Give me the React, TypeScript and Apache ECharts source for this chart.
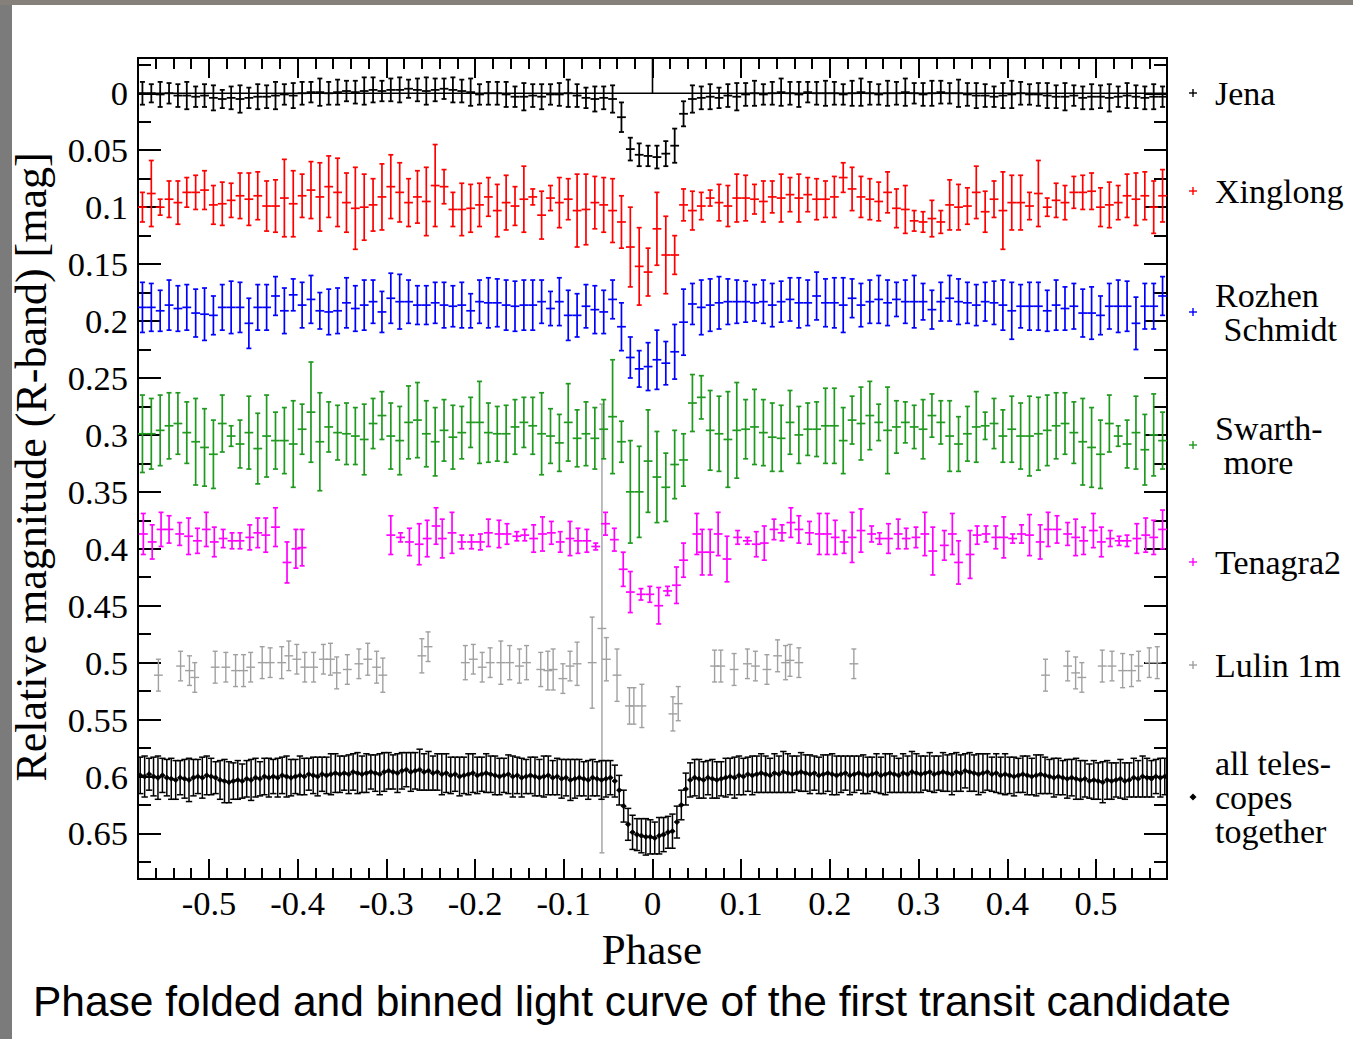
import React, { useEffect, useRef } from "react";
import * as echarts from "echarts";

// ---------- axes ----------
const X_MIN = -0.58;
const X_MAX = 0.58;
const Y_MIN = -0.031;
const Y_MAX = 0.69;
const X_MAJOR = [-0.5, -0.4, -0.3, -0.2, -0.1, 0, 0.1, 0.2, 0.3, 0.4, 0.5];
const X_LABELS = ["-0.5", "-0.4", "-0.3", "-0.2", "-0.1", "0", "0.1", "0.2", "0.3", "0.4", "0.5"];
const X_MINOR = [-0.56, -0.54, -0.52, -0.48, -0.46, -0.44, -0.42, -0.38, -0.36, -0.34, -0.32, -0.28, -0.26, -0.24, -0.22,
  -0.18, -0.16, -0.14, -0.12, -0.08, -0.06, -0.04, -0.02, 0.02, 0.04, 0.06, 0.08, 0.12, 0.14, 0.16, 0.18, 0.22, 0.24, 0.26, 0.28,
  0.32, 0.34, 0.36, 0.38, 0.42, 0.44, 0.46, 0.48, 0.52, 0.54, 0.56];
const Y_MAJOR = [0, 0.05, 0.1, 0.15, 0.2, 0.25, 0.3, 0.35, 0.4, 0.45, 0.5, 0.55, 0.6, 0.65];
const Y_LABELS = ["0", "0.05", "0.1", "0.15", "0.2", "0.25", "0.3", "0.35", "0.4", "0.45", "0.5", "0.55", "0.6", "0.65"];
const Y_MINOR = [-0.025, 0.025, 0.075, 0.125, 0.175, 0.225, 0.275, 0.325, 0.375, 0.425, 0.475, 0.525, 0.575, 0.625, 0.675];

// ---------- binned data (magnitudes and errors in mmag) ----------
const BIN_START = -0.575; // centre of first 0.01-wide phase bin
const BIN_STEP = 0.01;
const ALL_BIN_START = -0.5775; // centre of first 0.005-wide phase bin
const ALL_BIN_STEP = 0.005;

const JENA_MAG = [
  0, 0, 1, 0, 2, 2, 3, 2, 4, 5, 4, 5, 4, 3, 3, 2, 1, 2, 0, -1, -1, 0, -1, -2, -1, -2, -3, -2, -3, -3, -4, -3, -2, -3, -4, -3, -2, -1, 1, 0,
  0, 1, 3, 3, 2, 3, 1, 1, 0, 2, 4, 5, 4, 5, 21, 49, 54, 55, 56, 53, 46, 18, 5, 4, 3, 4, 2, 3, 1, 0, 1, 0, -1, 0, 1, -1, 0, 0,
  0, 1, 0, -1, 0, 1, 0, 0, -1, 0, 1, 0, -1, 0, 0, 1, 2, 2, 3, 2, 1, 0, 1, 1, 2, 3, 3, 2, 4, 3, 3, 4, 3, 2, 3, 4, 3, 3,
];
const JENA_ERR = [
  10, 8, 11, 9, 10, 12, 9, 10, 11, 8, 10, 12, 9, 11, 10, 12, 9, 11, 10, 9, 12, 10, 11, 9, 10, 12, 11, 9, 10, 11, 8, 10, 12, 10, 9, 11, 10, 12, 9, 10,
  10, 11, 9, 12, 10, 11, 9, 10, 12, 10, 9, 11, 10, 12, 13, 10, 10, 9, 10, 11, 15, 11, 12, 10, 11, 9, 10, 12, 10, 11, 9, 10, 12, 10, 11, 9, 10, 11,
  10, 9, 11, 12, 10, 9, 11, 10, 12, 9, 10, 11, 10, 9, 12, 10, 11, 10, 9, 11, 12, 10, 9, 10, 11, 10, 12, 9, 10, 11, 10, 12, 9, 11, 10, 10, 11, 9,
];
const XINGLONG_MAG = [
  100, 88, 100, 93, 96, 87, 87, 85, 98, 97, 94, 90, 93, 90, 99, 99, 92, 97, 90, 85, 91, 82, 87, 96, 101, 100, 98, 91, 82, 87, 96, 91, 95, 81, 82, 102, 102, 101, 98, 91,
  103, 96, 99, 93, 91, 107, 92, 96, 93, 103, 102, 96, 98, 103, 113, 135, 152, 157, 119, 142, 142, 98, 103, 99, 92, 96, 99, 92, 92, 93, 95, 91, 92, 89, 92, 89, 93, 93,
  91, 74, 84, 91, 93, 95, 87, 101, 102, 112, 113, 110, 113, 98, 100, 99, 87, 104, 93, 103, 96, 96, 99, 88, 100, 94, 96, 87, 87, 86, 100, 98, 96, 90, 93, 90, 100, 90,
];
const XINGLONG_ERR = [
  13, 29, 7, 16, 19, 13, 15, 17, 17, 19, 15, 20, 23, 21, 22, 23, 34, 29, 19, 25, 30, 27, 30, 26, 36, 29, 23, 29, 28, 26, 21, 23, 30, 36, 15, 15, 23, 21, 19, 17,
  23, 24, 17, 29, 7, 21, 11, 22, 18, 32, 31, 23, 24, 28, 23, 35, 34, 21, 32, 34, 17, 14, 17, 12, 7, 16, 18, 21, 20, 13, 18, 14, 21, 15, 21, 15, 18, 16,
  18, 13, 19, 18, 18, 17, 18, 17, 21, 9, 9, 16, 10, 22, 20, 16, 23, 18, 16, 34, 24, 24, 12, 29, 8, 15, 15, 14, 15, 16, 17, 20, 15, 19, 23, 21, 23, 23,
];
const ROZHEN_MAG = [
  188, 188, 191, 186, 189, 188, 193, 194, 195, 188, 188, 188, 202, 188, 188, 178, 191, 177, 186, 181, 191, 192, 191, 184, 189, 186, 183, 192, 180, 183, 183, 186, 186, 184, 186, 187, 186, 191, 183, 184,
  184, 186, 187, 186, 186, 183, 189, 183, 195, 195, 187, 190, 192, 181, 205, 232, 242, 240, 234, 237, 227, 201, 185, 188, 186, 184, 183, 183, 183, 184, 183, 186, 183, 181, 184, 184, 178, 184,
  184, 186, 180, 186, 183, 181, 184, 181, 183, 183, 183, 190, 183, 180, 183, 184, 186, 183, 184, 186, 191, 187, 187, 187, 191, 186, 189, 187, 193, 193, 195, 187, 187, 187, 202, 187, 187, 178,
];
const ROZHEN_ERR = [
  22, 21, 18, 22, 20, 20, 21, 23, 17, 20, 23, 22, 22, 20, 20, 17, 20, 14, 20, 21, 16, 20, 20, 22, 20, 22, 19, 18, 22, 24, 19, 17, 17, 18, 20, 18, 20, 15, 19, 22,
  21, 22, 22, 22, 22, 19, 15, 21, 22, 19, 19, 21, 19, 17, 21, 18, 16, 21, 26, 19, 24, 29, 18, 24, 23, 23, 20, 19, 18, 16, 19, 19, 18, 19, 22, 20, 21, 21,
  22, 24, 17, 19, 19, 21, 20, 15, 19, 23, 16, 17, 17, 20, 20, 18, 18, 17, 19, 22, 25, 19, 21, 21, 18, 22, 19, 20, 21, 23, 17, 20, 23, 22, 23, 20, 20, 17,
];
const SWARTH_MAG = [
  299, 299, 296, 292, 290, 298, 306, 311, 317, 290, 301, 308, 298, 312, 301, 305, 305, 308, 295, 280, 306, 293, 298, 299, 301, 304, 290, 283, 301, 305, 289, 287, 299, 306, 296, 302, 298, 289, 289, 298,
  299, 299, 293, 289, 292, 299, 301, 307, 289, 303, 299, 303, 295, 284, 306, 350, 350, 323, 337, 346, 326, 322, 272, 267, 296, 299, 304, 296, 295, 293, 298, 302, 303, 289, 300, 295, 295, 292,
  292, 305, 287, 290, 283, 289, 296, 293, 289, 293, 295, 283, 289, 301, 308, 299, 293, 292, 290, 301, 295, 301, 301, 299, 296, 292, 290, 298, 306, 311, 317, 290, 301, 308, 298, 313, 300, 305,
];
const SWARTH_ERR = [
  34, 31, 31, 29, 27, 27, 38, 34, 30, 25, 9, 21, 32, 31, 36, 25, 29, 38, 22, 44, 43, 22, 24, 27, 25, 31, 22, 21, 29, 30, 32, 33, 29, 30, 27, 28, 23, 22, 36, 26,
  24, 25, 24, 22, 25, 36, 24, 25, 34, 25, 28, 27, 26, 50, 18, 45, 40, 45, 40, 30, 30, 23, 25, 19, 35, 33, 42, 42, 26, 33, 29, 30, 29, 28, 25, 23, 24, 33,
  33, 29, 21, 32, 30, 16, 38, 23, 18, 19, 26, 19, 19, 31, 24, 24, 31, 12, 22, 23, 29, 29, 35, 32, 31, 29, 27, 27, 38, 35, 30, 25, 9, 21, 32, 31, 36, 25,
];

// Tenagra2 and Lulin have gaps: explicit phases
const TENAGRA_PHASE = [
  -0.574, -0.564, -0.554, -0.545, -0.533, -0.523, -0.513, -0.503, -0.494, -0.484, -0.474, -0.465, -0.454, -0.445, -0.436, -0.425, -0.412, -0.402, -0.395,
  -0.295, -0.284, -0.274, -0.263, -0.254, -0.244, -0.237, -0.226, -0.215, -0.204, -0.194, -0.185,
  -0.173, -0.164, -0.153, -0.144, -0.134, -0.124, -0.114, -0.104, -0.093, -0.084, -0.074, -0.064, -0.053, -0.043, -0.033, -0.025, -0.013, -0.003,
  0.007, 0.017, 0.027, 0.035, 0.050, 0.056, 0.065, 0.074, 0.084, 0.096, 0.107, 0.117, 0.126, 0.137, 0.146, 0.156, 0.165, 0.177, 0.188, 0.197,
  0.206, 0.216, 0.225, 0.235, 0.247, 0.256, 0.266, 0.277, 0.286, 0.297, 0.307, 0.316, 0.329, 0.338, 0.345, 0.358, 0.366, 0.376, 0.387, 0.396,
  0.406, 0.416, 0.425, 0.437, 0.446, 0.456, 0.468, 0.477, 0.486, 0.497, 0.506, 0.516, 0.526, 0.535, 0.546, 0.556, 0.565, 0.575,
];
const TENAGRA_MAG = [
  387, 394, 383, 383, 387, 389, 393, 383, 394, 391, 393, 393, 390, 386, 388, 381, 412, 400, 399,
  388, 390, 394, 396, 391, 380, 391, 386, 394, 394, 394, 386,
  387, 387, 389, 388, 391, 387, 386, 394, 391, 393, 393, 398, 378, 392, 418, 438, 440, 440,
  450, 437, 432, 410, 387, 403, 403, 387, 409, 390, 393, 396, 395, 383, 386, 377, 383, 386, 387, 387,
  390, 394, 390, 384, 387, 391, 391, 387, 391, 390, 387, 402, 397, 387, 412, 405, 388, 387, 390, 390,
  391, 387, 388, 394, 383, 383, 387, 390, 393, 384, 394, 391, 393, 393, 391, 388, 390, 383,
];
const TENAGRA_ERR = [
  18, 15, 15, 12, 10, 16, 11, 15, 13, 8, 7, 7, 11, 13, 15, 17, 18, 17, 16,
  17, 4, 12, 18, 16, 16, 17, 18, 6, 6, 7, 12,
  12, 9, 4, 5, 12, 15, 10, 9, 15, 11, 10, 3, 10, 10, 15, 18, 5, 7,
  16, 4, 16, 15, 18, 20, 20, 19, 20, 6, 3, 11, 15, 9, 7, 13, 12, 10, 18, 18,
  15, 10, 22, 19, 7, 5, 13, 13, 9, 9, 19, 21, 13, 18, 19, 21, 8, 7, 10, 18,
  4, 8, 18, 15, 15, 12, 10, 16, 12, 15, 13, 7, 4, 5, 13, 15, 15, 17,
];
const LULIN_PHASE = [
  -0.557, -0.532, -0.522, -0.516, -0.493, -0.481, -0.470, -0.461, -0.453, -0.440, -0.431, -0.418, -0.410, -0.401, -0.392,
  -0.382, -0.371, -0.363, -0.356, -0.344, -0.331, -0.321, -0.311, -0.304, -0.260, -0.253, -0.211, -0.202, -0.192, -0.183,
  -0.171, -0.161, -0.150, -0.142, -0.126, -0.118, -0.112, -0.101, -0.093, -0.085, -0.068, -0.057, -0.052, -0.040, -0.026,
  -0.021, -0.012, 0.023, 0.029, 0.070, 0.077, 0.092, 0.107, 0.116, 0.129, 0.141, 0.150, 0.155, 0.165,
  0.227, 0.443, 0.468, 0.477, 0.484, 0.507, 0.518, 0.530, 0.540, 0.548, 0.560, 0.569,
];
const LULIN_MAG = [
  511, 503, 507, 513, 504, 504, 507, 507, 504, 500, 500, 500, 494, 497, 504,
  504, 497, 497, 509, 506, 501, 497, 504, 511, 494, 486, 500, 497, 504, 500,
  500, 500, 503, 500, 506, 507, 506, 514, 503, 501, 500, 470, 497, 511, 538,
  538, 538, 545, 536, 503, 503, 506, 501, 503, 506, 494, 500, 498, 500,
  501, 511, 503, 509, 513, 503, 503, 507, 507, 503, 500, 500,
];
const LULIN_ERR = [
  14, 13, 13, 13, 14, 13, 14, 14, 13, 14, 13, 14, 13, 13, 13,
  13, 13, 14, 14, 13, 13, 14, 14, 15, 15, 13, 15, 13, 13, 13,
  19, 15, 15, 15, 15, 17, 18, 13, 13, 19, 40, 197, 19, 23, 16,
  16, 19, 15, 15, 14, 14, 14, 13, 13, 13, 14, 15, 14, 13,
  13, 14, 13, 14, 13, 14, 13, 15, 14, 13, 13, 14,
];

const ALL_MAG = [
  599, 600, 598, 600, 601, 599, 601, 602, 603, 601,
  602, 603, 601, 600, 601, 599, 600, 601, 603, 604,
  605, 604, 603, 604, 602, 603, 601, 602, 600, 601,
  600, 601, 599, 600, 601, 600, 599, 600, 598, 599,
  600, 598, 599, 598, 597, 598, 597, 598, 596, 597,
  598, 597, 596, 597, 598, 596, 595, 596, 597, 595,
  594, 596, 595, 594, 596, 595, 597, 596, 598, 597,
  599, 598, 600, 599, 598, 597, 599, 598, 597, 598,
  599, 600, 599, 598, 600, 599, 601, 600, 599, 600,
  601, 600, 599, 601, 600, 602, 601, 603, 602, 601,
  602, 603, 601, 602, 603, 602, 601, 604, 612, 626,
  642, 649, 651, 652, 653, 653, 654, 652, 651, 649,
  648, 640, 625, 611, 603, 601, 602, 603, 601, 602,
  603, 602, 601, 600, 601, 599, 600, 598, 599, 598,
  597, 598, 599, 597, 598, 596, 597, 598, 597, 596,
  597, 598, 597, 599, 598, 597, 598, 599, 598, 597,
  599, 598, 597, 598, 599, 598, 597, 599, 598, 597,
  598, 599, 597, 598, 596, 597, 598, 597, 596, 598,
  597, 596, 597, 598, 596, 597, 595, 596, 597, 598,
  597, 596, 598, 597, 599, 598, 599, 600, 599, 598,
  599, 600, 599, 598, 599, 600, 601, 600, 601, 602,
  601, 602, 603, 602, 604, 603, 604, 605, 603, 604,
  603, 602, 604, 603, 601, 602, 600, 601, 602, 600, 601, 600,
];
const ALL_ERR = [
  16, 18, 14, 17, 19, 15, 16, 18, 17, 15,
  17, 19, 16, 15, 18, 17, 16, 14, 17, 19,
  18, 16, 17, 15, 16, 18, 17, 15, 16, 17,
  15, 17, 16, 18, 16, 15, 17, 16, 14, 16,
  17, 15, 16, 18, 17, 16, 15, 17, 16, 18,
  16, 17, 15, 16, 18, 17, 16, 15, 17, 16,
  15, 17, 16, 18, 16, 17, 15, 16, 18, 17,
  16, 15, 17, 16, 18, 17, 16, 15, 17, 16,
  17, 16, 15, 17, 18, 16, 17, 15, 16, 17,
  16, 18, 17, 15, 16, 17, 16, 18, 17, 16,
  15, 17, 16, 15, 17, 16, 15, 14, 13, 14,
  14, 15, 14, 15, 16, 15, 14, 16, 15, 14,
  15, 14, 13, 14, 15, 16, 17, 16, 15, 17,
  16, 15, 17, 16, 18, 17, 16, 15, 17, 16,
  17, 16, 15, 17, 16, 18, 17, 16, 15, 17,
  16, 17, 15, 16, 17, 16, 18, 17, 16, 15,
  17, 16, 15, 17, 16, 15, 17, 16, 18, 17,
  16, 15, 17, 16, 18, 17, 16, 15, 17, 16,
  15, 17, 16, 18, 17, 16, 15, 17, 16, 18,
  17, 16, 15, 17, 16, 18, 16, 17, 15, 16,
  17, 16, 18, 17, 16, 15, 17, 16, 15, 17,
  16, 18, 17, 16, 15, 17, 16, 18, 17, 16,
  15, 17, 16, 15, 17, 16, 18, 17, 16, 15, 17, 16,
];

const SERIES_NAMES = ["Jena", "Xinglong", "Rozhen Schmidt", "Swarthmore", "Tenagra2", "Lulin 1m", "all telescopes together"];
const LEGEND_TEXT = ["Jena", "Xinglong", "Rozhen\n Schmidt", "Swarth-\n more", "Tenagra2", "Lulin 1m", "all teles-\ncopes\ntogether"];
const COLORS = ["#000000", "#ff0000", "#0000ff", "#1f9a1f", "#ff00ff", "#a0a0a0", "#000000"];

const SERIF = "'Liberation Serif', 'Times New Roman', 'DejaVu Serif', serif";
const SANS = "'Liberation Sans', Arial, 'DejaVu Sans', sans-serif";

function gridData(mags: number[], errs: number[], start: number, step: number) {
  const out: number[][] = [];
  for (let i = 0; i < mags.length; i++) out.push([start + step * i, mags[i] / 1000, errs[i] / 1000]);
  return out;
}
function listData(ph: number[], mags: number[], errs: number[]) {
  return ph.map((p, i) => [p, mags[i] / 1000, errs[i] / 1000]);
}

function errRender(color: string, lw: number, arm: number, cap: number, diamond: number) {
  return (params: any, api: any) => {
    const x = api.value(0);
    const y = api.value(1);
    const e = api.value(2);
    const c = api.coord([x, y]);
    const t = api.coord([x, y - e]);
    const b = api.coord([x, y + e]);
    const style = { stroke: color, lineWidth: lw, fill: null };
    const children: any[] = [
      { type: "line", shape: { x1: c[0], y1: t[1], x2: c[0], y2: b[1] }, style },
      { type: "line", shape: { x1: c[0] - cap, y1: t[1], x2: c[0] + cap, y2: t[1] }, style },
      { type: "line", shape: { x1: c[0] - cap, y1: b[1], x2: c[0] + cap, y2: b[1] }, style },
      { type: "line", shape: { x1: c[0] - arm, y1: c[1], x2: c[0] + arm, y2: c[1] }, style },
    ];
    if (diamond > 0) {
      children.push({
        type: "polygon",
        shape: { points: [[c[0], c[1] - diamond], [c[0] + diamond, c[1]], [c[0], c[1] + diamond], [c[0] - diamond, c[1]]] },
        style: { fill: color, stroke: color, lineWidth: 0.5 },
      });
    }
    return { type: "group", children };
  };
}

function customSeries(name: string, data: number[][], render: any, z: number) {
  return {
    type: "custom",
    name,
    coordinateSystem: "cartesian2d",
    xAxisIndex: 0,
    yAxisIndex: 0,
    data,
    encode: { x: 0, y: 1 },
    renderItem: render,
    clip: true,
    silent: true,
    z,
  };
}

export default function App() {
  const ref = useRef<HTMLDivElement>(null);
  useEffect(() => {
    if (!ref.current) return;
    const chart = echarts.init(ref.current, null, { renderer: "svg" });

    const xLab = (v: number) => {
      const i = X_MAJOR.findIndex((m) => Math.abs(m - v) < 1e-6);
      return i >= 0 ? X_LABELS[i] : "";
    };
    const yLab = (v: number) => {
      const i = Y_MAJOR.findIndex((m) => Math.abs(m - v) < 1e-6);
      return i >= 0 ? Y_LABELS[i] : "";
    };
    const tickStyle = { color: "#000", width: 2 };
    const noLine = { show: false, onZero: false };
    const xBase = { type: "value", min: X_MIN, max: X_MAX, axisLine: noLine, splitLine: { show: false } };
    const yBase = { type: "value", min: Y_MIN, max: Y_MAX, inverse: true, axisLine: noLine, splitLine: { show: false } };
    const labelStyle = { color: "#000", fontFamily: SERIF, fontSize: 34.5, lineHeight: 32 };

    const xAxis: any[] = [];
    const yAxis: any[] = [];
    (["bottom", "top"] as const).forEach((pos) => {
      xAxis.push({
        ...xBase, position: pos,
        axisTick: { show: true, inside: true, length: 20, customValues: X_MAJOR, lineStyle: tickStyle },
        axisLabel: pos === "bottom"
          ? { show: true, customValues: X_MAJOR, formatter: xLab, margin: 8, ...labelStyle }
          : { show: false },
      });
      xAxis.push({
        ...xBase, position: pos,
        axisTick: { show: true, inside: true, length: 11, customValues: X_MINOR, lineStyle: tickStyle },
        axisLabel: { show: false },
      });
    });
    (["left", "right"] as const).forEach((pos) => {
      yAxis.push({
        ...yBase, position: pos,
        axisTick: { show: true, inside: true, length: 23, customValues: Y_MAJOR, lineStyle: tickStyle },
        axisLabel: pos === "left"
          ? { show: true, customValues: Y_MAJOR, formatter: yLab, margin: 10, ...labelStyle }
          : { show: false },
      });
      yAxis.push({
        ...yBase, position: pos,
        axisTick: { show: true, inside: true, length: 13, customValues: Y_MINOR, lineStyle: tickStyle },
        axisLabel: { show: false },
      });
    });

    const zeroSeries = {
      type: "custom",
      coordinateSystem: "cartesian2d",
      xAxisIndex: 0,
      yAxisIndex: 0,
      data: [[0, 0]],
      silent: true,
      z: 3,
      renderItem: (params: any, api: any) => {
        const cs = params.coordSys;
        const p = api.coord([api.value(0), api.value(1)]);
        const s = { stroke: "#000", lineWidth: 1.6 };
        return {
          type: "group",
          children: [
            { type: "line", shape: { x1: cs.x, y1: p[1], x2: cs.x + cs.width, y2: p[1] }, style: s },
            { type: "line", shape: { x1: p[0], y1: cs.y, x2: p[0], y2: p[1] }, style: s },
          ],
        };
      },
    };

    const series: any[] = [
      zeroSeries,
      customSeries(SERIES_NAMES[5], listData(LULIN_PHASE, LULIN_MAG, LULIN_ERR), errRender(COLORS[5], 1.4, 4.4, 2.5, 0), 4),
      customSeries(SERIES_NAMES[4], listData(TENAGRA_PHASE, TENAGRA_MAG, TENAGRA_ERR), errRender(COLORS[4], 1.7, 4.4, 2.5, 0), 5),
      customSeries(SERIES_NAMES[3], gridData(SWARTH_MAG, SWARTH_ERR, BIN_START, BIN_STEP), errRender(COLORS[3], 1.7, 4.4, 2.5, 0), 5),
      customSeries(SERIES_NAMES[2], gridData(ROZHEN_MAG, ROZHEN_ERR, BIN_START, BIN_STEP), errRender(COLORS[2], 1.7, 4.4, 2.5, 0), 5),
      customSeries(SERIES_NAMES[1], gridData(XINGLONG_MAG, XINGLONG_ERR, BIN_START, BIN_STEP), errRender(COLORS[1], 1.7, 4.4, 2.5, 0), 5),
      customSeries(SERIES_NAMES[0], gridData(JENA_MAG, JENA_ERR, BIN_START, BIN_STEP), errRender(COLORS[0], 1.8, 4.4, 2.5, 0), 6),
      customSeries(SERIES_NAMES[6], gridData(ALL_MAG, ALL_ERR, ALL_BIN_START, ALL_BIN_STEP), errRender(COLORS[6], 1.5, 2.3, 3.2, 2.8), 6),
    ];

    // legend (right side)
    const legendY = [93, 191, 312, 445, 562, 665, 797];
    const legendEls: any[] = [];
    LEGEND_TEXT.forEach((txt, i) => {
      const y = legendY[i];
      const col = COLORS[i];
      if (i === 6) {
        legendEls.push({ type: "polygon", shape: { points: [[1193, y - 3.5], [1196.5, y], [1193, y + 3.5], [1189.5, y]] }, style: { fill: col } });
      } else {
        legendEls.push({ type: "line", shape: { x1: 1189, y1: y, x2: 1197, y2: y }, style: { stroke: col, lineWidth: 1.4 } });
        legendEls.push({ type: "line", shape: { x1: 1193, y1: y - 4, x2: 1193, y2: y + 4 }, style: { stroke: col, lineWidth: 1.4 } });
      }
      legendEls.push({
        type: "text", x: 1215, y,
        style: { text: txt, fill: "#000", fontFamily: SERIF, fontSize: 34, lineHeight: 34, align: "left", verticalAlign: "middle" },
      });
    });

    chart.setOption({
      animation: false,
      backgroundColor: "#ffffff",
      grid: { left: 138, top: 58, width: 1029, height: 821, show: true, borderColor: "#000", borderWidth: 2, backgroundColor: "transparent", containLabel: false },
      xAxis,
      yAxis,
      series,
      graphic: [
        { type: "rect", shape: { x: 0, y: 0, width: 12, height: 1039 }, style: { fill: "#7b7b7b" }, silent: true },
        { type: "rect", shape: { x: 0, y: 0, width: 1353, height: 5 }, style: { fill: "#858079" }, silent: true },
        {
          type: "text", x: 31, y: 467, rotation: Math.PI / 2,
          style: { text: "Relative magnitude (R-band) [mag]", fill: "#000", fontFamily: SERIF, fontSize: 44, align: "center", verticalAlign: "middle" },
        },
        {
          type: "text", x: 652, y: 949,
          style: { text: "Phase", fill: "#000", fontFamily: SERIF, fontSize: 43, lineHeight: 38, align: "center", verticalAlign: "middle" },
        },
        {
          type: "text", x: 33, y: 1001,
          style: { text: "Phase folded and binned light curve of the first transit candidate", fill: "#000", fontFamily: SANS, fontSize: 42.5, align: "left", verticalAlign: "middle" },
        },
        ...legendEls,
      ],
    });
    return () => chart.dispose();
  }, []);
  return <div ref={ref} style={{ position: "fixed", left: 0, top: 0, width: 1353, height: 1039, background: "#fff" }} />;
}
